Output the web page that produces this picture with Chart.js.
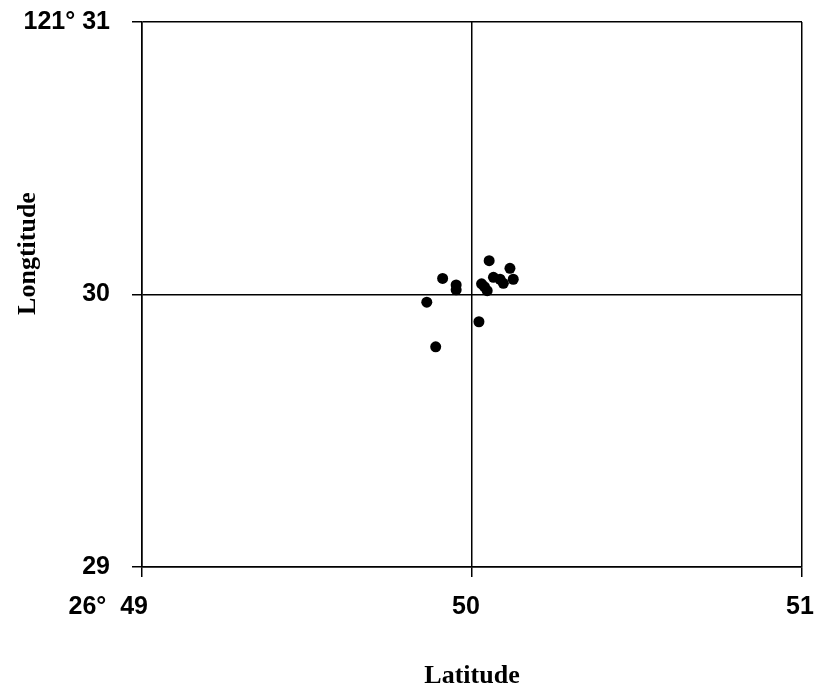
<!DOCTYPE html>
<html><head><meta charset="utf-8">
<script src="https://cdn.jsdelivr.net/npm/chart.js@4"></script>
<style>html,body{margin:0;padding:0;background:#fff}</style>
</head><body>
<canvas id="c" width="818" height="688" style="display:block;width:818px;height:688px"></canvas>
<script>
// Data
const latitudes  = [50.052, 49.911, 49.952, 49.952, 50.029, 50.046, 50.065, 50.085, 50.095, 50.115, 50.125, 49.863, 50.021, 49.890, 50.038];
const longitudes = [30.124, 30.059, 30.035, 30.017, 30.039, 30.014, 30.063, 30.056, 30.041, 30.096, 30.056, 29.972, 29.900, 29.808, 30.028];
const xTickValues = [49, 50, 51];
const xTickLabels = ['26°  49', '50', '51'];
const yTickValues = [29, 30, 31];
const yTickLabels = ['29', '30', '121° 31'];
const xTitle = 'Latitude';
const yTitle = 'Longtitude';

const points = latitudes.map((x, i) => ({x: x, y: longitudes[i]}));

const tickFont = {family: '"Liberation Sans", Arial, sans-serif', size: 25, weight: 'bold'};
const titleFont = {family: '"Liberation Serif", "Times New Roman", serif', size: 26, weight: 'bold'};

const customLabels = {
  id: 'customLabels',
  afterDraw(chart) {
    const ctx = chart.ctx;
    const xs = chart.scales.x;
    const area = chart.chartArea;
    ctx.save();
    ctx.fillStyle = '#000';
    ctx.font = 'bold 25px "Liberation Sans", Arial, sans-serif';
    ctx.textBaseline = 'middle';
    const shifts = [6, -6, -2];
    const aligns = ['right', 'center', 'center'];
    xTickValues.forEach((v, i) => {
      ctx.textAlign = aligns[i];
      ctx.fillText(xTickLabels[i], xs.getPixelForValue(v) + shifts[i], area.bottom + 40);
    });
    ctx.font = 'bold 26px "Liberation Serif", "Times New Roman", serif';
    ctx.translate(28, (area.top + area.bottom) / 2 - 41);
    ctx.rotate(-Math.PI / 2);
    ctx.textAlign = 'center';
    ctx.fillText(yTitle, 0, 0);
    ctx.restore();
  }
};

new Chart(document.getElementById('c'), {
  type: 'scatter',
  data: {
    datasets: [{
      data: points,
      backgroundColor: '#000',
      borderColor: '#000',
      borderWidth: 0,
      pointRadius: 5.5,
      pointHoverRadius: 5.5
    }]
  },
  options: {
    responsive: false,
    animation: false,
    layout: {padding: {top: 22, right: 16, left: 0, bottom: 0}},
    plugins: {legend: {display: false}, tooltip: {enabled: false}},
    scales: {
      x: {
        type: 'linear',
        min: 49, max: 51,
        afterBuildTicks(scale) { scale.ticks = xTickValues.map(v => ({value: v})); },
        ticks: {display: false},
        grid: {color: '#000', lineWidth: 1.5, drawTicks: true, tickLength: 10, tickColor: '#000'},
        border: {color: '#000', width: 1.5},
        title: {display: true, text: xTitle, font: titleFont, color: '#000', padding: {top: 0, bottom: -4}},
        afterFit(scale) { scale.height = 121; scale.paddingLeft = 0; scale.paddingRight = 0; }
      },
      y: {
        type: 'linear',
        min: 29, max: 31,
        afterBuildTicks(scale) { scale.ticks = yTickValues.map(v => ({value: v})); },
        ticks: {
          font: tickFont, color: '#000', padding: 22,
          callback: (v) => { const i = yTickValues.indexOf(v); return i >= 0 ? yTickLabels[i] : ''; }
        },
        grid: {color: '#000', lineWidth: 1.5, drawTicks: true, tickLength: 10, tickColor: '#000'},
        border: {color: '#000', width: 1.5},
        afterFit(scale) { scale.width = 142; scale.paddingTop = 0; scale.paddingBottom = 0; }
      }
    }
  },
  plugins: [customLabels]
});
</script>
</body></html>
